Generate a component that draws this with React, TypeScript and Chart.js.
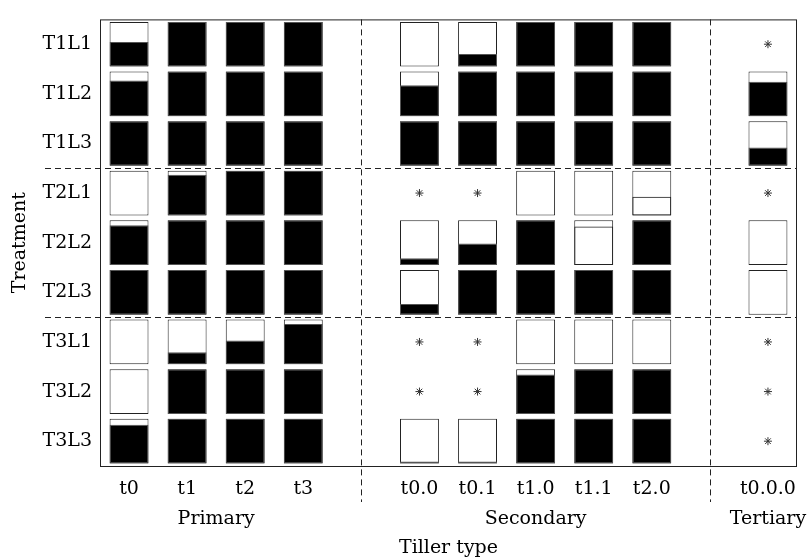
import React, { useEffect, useRef } from 'react';
import { Chart, registerables } from 'chart.js';

Chart.register(...registerables);

const treatments = ['T1L1', 'T1L2', 'T1L3', 'T2L1', 'T2L2', 'T2L3', 'T3L1', 'T3L2', 'T3L3'];
const tillers = ['t0', 't1', 't2', 't3', 't0.0', 't0.1', 't1.0', 't1.1', 't2.0', 't0.0.0'];
const tillerGroup = [0, 0, 0, 0, 1, 1, 1, 1, 1, 2];
const groupNames = ['Primary', 'Secondary', 'Tertiary'];

// Fraction of each bar that is black (null = no data, shown as an asterisk)
const T1L1 = [0.55, 1, 1, 1, 0, 0.28, 1, 1, 1, null];
const T1L2 = [0.8, 1, 1, 1, 0.69, 1, 1, 1, 1, 0.77];
const T1L3 = [1, 1, 1, 1, 1, 1, 1, 1, 1, 0.41];
const T2L1 = [0, 0.91, 1, 1, null, null, 0, 0, 0, null];
const T2L2 = [0.89, 1, 1, 1, 0.15, 0.48, 1, 0, 1, 0];
const T2L3 = [1, 1, 1, 1, 0.24, 1, 1, 1, 1, 0];
const T3L1 = [0, 0.27, 0.53, 0.9, null, null, 0, 0, 0, null];
const T3L2 = [0, 1, 1, 1, null, null, 0.88, 1, 1, null];
const T3L3 = [0.87, 1, 1, 1, 0.045, 0.045, 1, 1, 1, null];
const rows = [T1L1, T1L2, T1L3, T2L1, T2L2, T2L3, T3L1, T3L2, T3L3];

// Cells with an extra (white) subdivision line
const splitTreatment = ['T2L1', 'T2L2'];
const splitTiller = ['t2.0', 't1.1'];
const splitValue = [0.42, 0.86];

const FONT = { family: "'DejaVu Serif', serif", size: 19 };

const xLabels: string[] = [];
tillers.forEach((t, i) => {
  if (i > 0 && tillerGroup[i] !== tillerGroup[i - 1]) xLabels.push(' '.repeat(tillerGroup[i]));
  xLabels.push(t);
});

const N = treatments.length;
const BAR_H = 0.9;
const rowBase = (r: number) => N - 1 - r + 0.05;

function buildDatasets() {
  const ds: any[] = [];
  const common = {
    type: 'bar',
    grouped: false,
    barPercentage: 0.67,
    categoryPercentage: 1,
    borderSkipped: false,
    borderWidth: 1,
  };
  rows.forEach((vals, r) => {
    const base = rowBase(r);
    const white = xLabels.map((l) => {
      const i = tillers.indexOf(l);
      if (i < 0 || vals[i] == null) return null;
      return [base, base + BAR_H];
    });
    const black = xLabels.map((l) => {
      const i = tillers.indexOf(l);
      if (i < 0 || vals[i] == null || (vals[i] as number) <= 0) return null;
      return [base, base + BAR_H * (vals[i] as number)];
    });
    ds.push({ ...common, label: treatments[r] + ' outline', data: white, backgroundColor: '#ffffff', borderColor: '#222222', order: 3 });
    ds.push({ ...common, label: treatments[r] + ' filled', data: black, backgroundColor: '#000000', borderColor: '#555555', order: 2 });
  });
  splitTreatment.forEach((t, k) => {
    const r = treatments.indexOf(t);
    const base = rowBase(r);
    const d = xLabels.map((l) => (l === splitTiller[k] ? [base, base + BAR_H * splitValue[k]] : null));
    ds.push({ ...common, label: 'split ' + k, data: d, backgroundColor: 'rgba(0,0,0,0)', borderColor: '#222222', order: 1 });
  });
  const stars: any[] = [];
  rows.forEach((vals, r) => {
    vals.forEach((v, i) => {
      if (v == null) stars.push({ x: tillers[i], y: N - 1 - r + 0.5 });
    });
  });
  ds.push({
    type: 'scatter',
    label: 'no data',
    data: stars,
    pointStyle: 'star',
    pointRadius: 4,
    borderColor: '#333333',
    backgroundColor: '#333333',
    borderWidth: 1,
    order: 0,
  });
  return ds;
}

const decor = {
  id: 'decor',
  afterDatasetsDraw(chart: any) {
    const { ctx, chartArea, scales } = chart;
    const { left, right, top, bottom } = chartArea;
    const x = scales.x;
    const y = scales.y;
    ctx.save();
    ctx.strokeStyle = '#222222';
    ctx.lineWidth = 1;
    ctx.strokeRect(left + 0.5, top + 0.5, right - left - 1, bottom - top);

    ctx.setLineDash([6, 4]);
    xLabels.forEach((l, i) => {
      if (tillers.indexOf(l) < 0) {
        const px = Math.round(x.getPixelForValue(i)) + 0.5;
        ctx.beginPath();
        ctx.moveTo(px, top);
        ctx.lineTo(px, 502);
        ctx.stroke();
      }
    });
    for (let r = 1; r < N; r++) {
      if (treatments[r].slice(0, 2) !== treatments[r - 1].slice(0, 2)) {
        const py = Math.round(y.getPixelForValue(N - r)) + 0.5;
        ctx.beginPath();
        ctx.moveTo(45, py);
        ctx.lineTo(right, py);
        ctx.stroke();
      }
    }
    ctx.setLineDash([]);

    ctx.fillStyle = '#000000';
    ctx.font = `${FONT.size}px ${FONT.family}`;
    ctx.textAlign = 'center';
    ctx.textBaseline = 'middle';
    groupNames.forEach((g, gi) => {
      const members = tillers.filter((_, i) => tillerGroup[i] === gi);
      const a = x.getPixelForValue(xLabels.indexOf(members[0]));
      const b = x.getPixelForValue(xLabels.indexOf(members[members.length - 1]));
      ctx.fillText(g, (a + b) / 2, 519);
    });
    ctx.fillText('Tiller type', (left + right) / 2, 548);
    ctx.translate(20, (top + bottom) / 2);
    ctx.rotate(-Math.PI / 2);
    ctx.fillText('Treatment', 0, 0);
    ctx.restore();
  },
};

export default function App() {
  const ref = useRef<HTMLCanvasElement>(null);
  useEffect(() => {
    document.body.style.margin = '0';
    const chart = new Chart(ref.current as HTMLCanvasElement, {
      type: 'bar',
      data: { labels: xLabels, datasets: buildDatasets() } as any,
      options: {
        responsive: false,
        animation: false,
        layout: { padding: { top: 12, right: 12, left: 0, bottom: 0 } },
        plugins: { legend: { display: false }, tooltip: { enabled: false } },
        scales: {
          x: {
            type: 'category',
            offset: true,
            grid: { display: false, drawTicks: false },
            border: { display: false },
            ticks: { font: FONT, color: '#000', padding: 12, maxRotation: 0, autoSkip: false },
            afterFit: (s: any) => {
              s.height = 94;
            },
          },
          y: {
            type: 'linear',
            min: 0,
            max: N,
            grid: { display: false, drawTicks: false },
            border: { display: false },
            ticks: {
              font: FONT,
              color: '#000',
              padding: 8,
              callback: (v: any) => treatments[N - 1 - Math.floor(Number(v))],
            },
            afterBuildTicks: (s: any) => {
              s.ticks = treatments.map((_, r) => ({ value: N - 1 - r + 0.5 }));
            },
            afterFit: (s: any) => {
              s.width = 100;
            },
          },
        },
      } as any,
      plugins: [decor],
    });
    return () => chart.destroy();
  }, []);
  return <canvas ref={ref} width={809} height={560} style={{ display: 'block' }} />;
}
